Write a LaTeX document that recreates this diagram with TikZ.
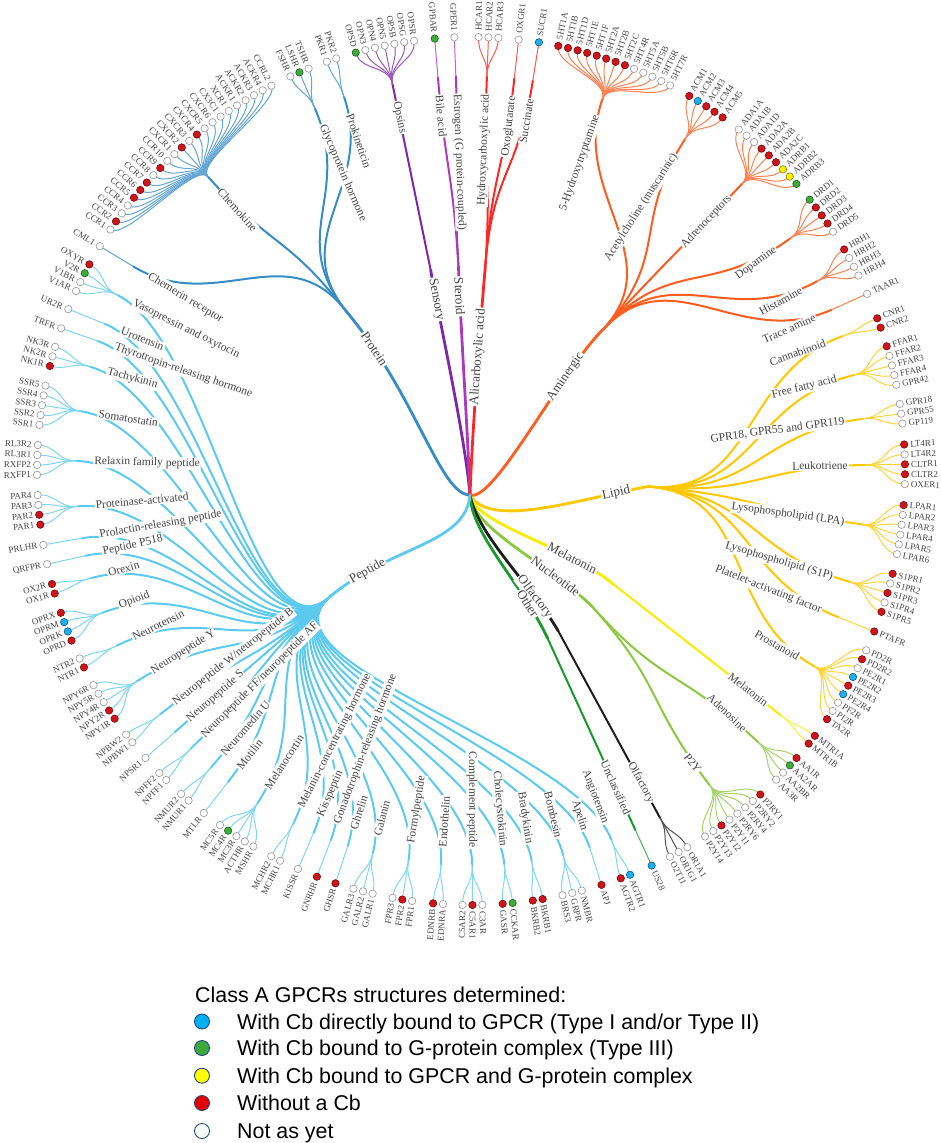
\documentclass[tikz,border=0pt]{standalone}
\usepackage{fontspec}
\setmainfont{Liberation Serif}
\newfontfamily\legendfont{Liberation Sans}
\usetikzlibrary{calc}

\definecolor{colProtein}{RGB}{55,140,198}
\definecolor{colPeptide}{RGB}{92,202,238}
\definecolor{colSensory}{RGB}{125,40,165}
\definecolor{colSteroid}{RGB}{172,58,188}
\definecolor{colAlicarb}{RGB}{255,38,38}
\definecolor{colAminergic}{RGB}{255,92,32}
\definecolor{colLipid}{RGB}{255,200,0}
\definecolor{colMelatonin}{RGB}{250,236,0}
\definecolor{colNucleotide}{RGB}{140,200,62}
\definecolor{colOlfactory}{RGB}{30,30,30}
\definecolor{colOther}{RGB}{25,152,45}

\definecolor{fille}{RGB}{255,255,255}
\definecolor{linee}{RGB}{150,150,150}
\definecolor{fillr}{RGB}{206,20,28}
\definecolor{liner}{RGB}{120,10,10}
\definecolor{fillg}{RGB}{62,172,58}
\definecolor{lineg}{RGB}{30,95,30}
\definecolor{fillb}{RGB}{28,176,236}
\definecolor{lineb}{RGB}{20,85,125}
\definecolor{filly}{RGB}{255,240,0}
\definecolor{liney}{RGB}{135,125,0}
\definecolor{labgray}{RGB}{68,68,68}
\definecolor{legline}{RGB}{31,73,125}
\definecolor{legblue}{RGB}{0,176,240}
\definecolor{leggreen}{RGB}{60,170,60}
\definecolor{legyellow}{RGB}{255,255,0}
\definecolor{legred}{RGB}{228,0,0}

\newcommand\LeafStep{1.31}

% class node: id, radius, angle (around centre C)
\newcommand\classnode[3]{%
  \expandafter\xdef\csname clsr@#1\endcsname{#2}%
  \expandafter\xdef\csname clst@#1\endcsname{#3}%
  \coordinate (c-#1) at ([shift={(#3:#2)}]C);%
}

% ---------- root -> class links, three passes
\newcommand\rootlinkLines[5]{%
  \draw[rootln=col#1] (root) .. controls +(#2) and +(#3) .. (c-#1);}
\newcommand\rootlinkBG[5]{%
  \path (root) .. controls +(#2) and +(#3) .. (c-#1)
      node[pos=#4, sloped, classlab, fill=white] (clb-#1) {\phantom{#5}};}
\newcommand\rootlinkFG[5]{%
  \path (root) .. controls +(#2) and +(#3) .. (c-#1)
    node[pos=#4, sloped, classlab] (cl-#1) {#5};}

% ---------- families, three passes
\newcommand\famsetup[2]{%
  \foreach \nm/\st [count=\k from 0] in {#2} {\xdef\famN{\k}}%
  \pgfmathsetmacro\famA{#1-\famN*\LeafStep/2}%
  \pgfmathsetmacro\fc{cos(\famA)}%
  \ifdim\fc pt<0pt
    \def\fanc{west}\pgfmathsetmacro\frot{\famA+180}%
  \else
    \def\fanc{east}\pgfmathsetmacro\frot{\famA}%
  \fi}

\newcommand\gfamLines[5]{%
  \famsetup{#3}{#5}%
  \edef\famCR{\csname clsr@#2\endcsname}%
  \edef\famCT{\csname clst@#2\endcsname}%
  \pgfmathsetmacro\famMid{(\famCR+395)/2}%
  \coordinate (f-#1) at ([shift={(\famA:395)}]C);%
  \draw[famlink=col#2] (c-#2) .. controls ([shift={(\famCT:\famMid)}]C) and ([shift={(\famA:\famMid)}]C) .. (f-#1);
  \foreach \nm/\st [count=\k from 0] in {#5} {%
    \pgfmathsetmacro\la{#3-\k*\LeafStep}%
    \coordinate (p-\nm) at ([shift={(\la:434)}]C);
    \draw[leaflink=col#2] (f-#1) .. controls ([shift={(\famA:414.5)}]C) and ([shift={(\la:414.5)}]C) .. (p-\nm);
  }}

\newcommand\gfamBG[5]{%
  \famsetup{#3}{#5}%
  \node[famlab, anchor=\fanc, rotate=\frot, fill=white] (flb-#1) at ([shift={(\famA:378)}]C) {\phantom{#4}};}

\newcommand\gfamFG[5]{%
  \famsetup{#3}{#5}%
  \node[famlab, anchor=\fanc, rotate=\frot] (fl-#1) at ([shift={(\famA:378)}]C) {#4};
  \foreach \nm/\st [count=\k from 0] in {#5} {%
    \pgfmathsetmacro\la{#3-\k*\LeafStep}%
    \node[leafdot=\st] (\nm) at (p-\nm) {};
    \pgfmathsetmacro\lc{cos(\la)}%
    \ifdim\lc pt<0pt
      \node[leaflab, anchor=east, rotate=\la+180] (t-\nm) at ([shift={(\la:440)}]C) {\nm};
    \else
      \node[leaflab, anchor=west, rotate=\la] (t-\nm) at ([shift={(\la:440)}]C) {\nm};
    \fi
  }}

% ---------- data
\newcommand\allroots{%
\rootlink{Protein}{180:30}{-50:110}{0.85}{Protein}
\rootlink{Sensory}{95:60}{-80:60}{0.85}{Sensory}
\rootlink{Steroid}{92:60}{-88:60}{0.85}{Steroid}
\rootlink{Alicarb}{88:60}{-95:60}{0.6}{Alicarboxylic acid}
\rootlink{Aminergic}{-20:25}{225:60}{0.74}{Aminergic}
\rootlink{Lipid}{-60:40}{190:70}{0.85}{Lipid}
\rootlink{Melatonin}{-80:30}{140:60}{0.75}{Melatonin}
\rootlink{Nucleotide}{-85:35}{135:60}{0.75}{Nucleotide}
\rootlink{Olfactory}{-80:40}{120:50}{0.75}{Olfactory}
\rootlink{Other}{-88:40}{115:60}{0.78}{Other}
\rootlink{Peptide}{-95:50}{40:80}{0.8}{Peptide}}

\newcommand\allfams{%
\gfam{chemerin}{Protein}{148.8}{Chemerin receptor}{CML1/e}
\gfam{chemokine}{Protein}{146.2}{Chemokine}{CCR1/e,CCR2/r,CCR3/e,CCR4/e,CCR5/r,CCR6/r,CCR7/r,CCR8/e,CCR9/r,CCR10/e,CXCR1/e,CXCR2/r,CXCR3/e,CXCR4/r,CXCR5/e,CXCR6/e,CX3C1/e,XCR1/e,ACKR1/e,ACKR2/e,ACKR3/e,ACKR4/e,CCRL2/e}
\gfam{glyco}{Protein}{114.6}{Glycoprotein hormone}{FSHR/e,LSHR/g,TSHR/e}
\gfam{prok}{Protein}{109.4}{Prokineticin}{PKR1/e,PKR2/e}
\gfam{opsins}{Sensory}{105.4}{Opsins}{OPSD/g,OPN3/e,OPN4/e,OPN5/e,OPSB/e,OPSG/e,OPSR/e}
\gfam{bile}{Steroid}{94.8}{Bile acid}{GPBAR/g}
\gfam{estrogen}{Steroid}{92.2}{Estrogen (G protein-coupled)}{GPER1/e}
\gfam{hydroxy}{Alicarb}{89.0}{Hydroxycarboxylic acid}{HCAR1/e,HCAR2/e,HCAR3/e}
\gfam{oxo}{Alicarb}{83.7}{Oxoglutarate}{OXGR1/e}
\gfam{succ}{Alicarb}{81.0}{Succinate}{SUCR1/b}
\gfam{ht}{Aminergic}{78.4}{5-Hydroxytryptamine}{5HT1A/r,5HT1B/r,5HT1D/r,5HT1E/r,5HT1F/r,5HT2A/r,5HT2B/r,5HT2C/r,5HT4R/e,5HT5A/e,5HT5B/e,5HT6R/e,5HT7R/e}
\gfam{ach}{Aminergic}{59.8}{Acetylcholine (muscarinic)}{ACM1/r,ACM2/b,ACM3/r,ACM4/r,ACM5/r}
\gfam{adreno}{Aminergic}{51.9}{Adrenoceptors}{ADA1A/e,ADA1B/e,ADA1D/e,ADA2A/r,ADA2B/r,ADA2C/r,ADRB1/y,ADRB2/y,ADRB3/g}
\gfam{dopamine}{Aminergic}{38.7}{Dopamine}{DRD1/g,DRD2/r,DRD3/r,DRD4/r,DRD5/e}
\gfam{histamine}{Aminergic}{30.7}{Histamine}{HRH1/r,HRH2/e,HRH3/e,HRH4/e}
\gfam{trace}{Aminergic}{24.1}{Trace amine}{TAAR1/e}
\gfam{cannab}{Lipid}{20.6}{Cannabinoid}{CNR1/r,CNR2/r}
\gfam{ffa}{Lipid}{16.7}{Free fatty acid}{FFAR1/r,FFAR2/e,FFAR3/e,FFAR4/e,GPR42/e}
\gfam{gpr}{Lipid}{8.9}{GPR18, GPR55 and GPR119}{GPR18/e,GPR55/e,GP119/e}
\gfam{leuko}{Lipid}{3.5}{Leukotriene}{LT4R1/r,LT4R2/e,CLTR1/r,CLTR2/r,OXER1/e}
\gfam{lpa}{Lipid}{-4.5}{Lysophospholipid (LPA)}{LPAR1/r,LPAR2/e,LPAR3/e,LPAR4/e,LPAR5/e,LPAR6/e}
\gfam{sip}{Lipid}{-13.7}{Lysophospholipid (S1P)}{S1PR1/r,S1PR2/e,S1PR3/r,S1PR4/e,S1PR5/r}
\gfam{paf}{Lipid}{-21.7}{Platelet-activating factor}{PTAFR/r}
\gfam{prosta}{Lipid}{-24.4}{Prostanoid}{PD2R/e,PD2R2/r,PE2R1/e,PE2R2/b,PE2R3/r,PE2R4/b,PF2R/e,PI2R/e,TA2R/r}
\gfam{melfam}{Melatonin}{-37.6}{Melatonin}{MTR1A/r,MTR1B/r}
\gfam{adenosine}{Nucleotide}{-41.4}{Adenosine}{AA1R/r,AA2AR/g,AA2BR/e,AA3R/e}
\gfam{ptwoy}{Nucleotide}{-48.2}{P2Y}{P2RY1/r,P2RY2/e,P2RY4/e,P2RY6/e,P2Y11/e,P2Y12/r,P2Y13/e,P2Y14/e}
\gfam{olffam}{Olfactory}{-60.1}{Olfactory}{OR1A1/e,OR1G1/e,O2T11/e}
\gfam{unclass}{Other}{-65.4}{Unclassified}{US28/b}
\gfam{angio}{Peptide}{-68.5}{Angiotensin}{AGTR1/b,AGTR2/r}
\gfam{apelin}{Peptide}{-72.5}{Apelin}{APJ/r}
\gfam{bombesin}{Peptide}{-75.2}{Bombesin}{NMBR/e,GRPR/e,BRS3/e}
\gfam{brady}{Peptide}{-80.5}{Bradykinin}{BKRB1/r,BKRB2/r}
\gfam{cck}{Peptide}{-84.5}{Cholecystokinin}{CCKAR/g,GASR/r}
\gfam{compl}{Peptide}{-88.5}{Complement peptide}{C3AR/e,C5AR1/r,C5AR2/e}
\gfam{endo}{Peptide}{-93.7}{Endothelin}{EDNRA/e,EDNRB/r}
\gfam{formyl}{Peptide}{-97.8}{Formylpeptide}{FPR1/e,FPR2/r,FPR3/e}
\gfam{galanin}{Peptide}{-103.1}{Galanin}{GALR1/e,GALR2/e,GALR3/e}
\gfam{ghrelin}{Peptide}{-108.2}{Ghrelin}{GHSR/r}
\gfam{gnrh}{Peptide}{-110.8}{Gonadotrophin-releasing hormone}{GNRHR/r}
\gfam{kiss}{Peptide}{-113.5}{Kisspeptin}{KISSR/e}
\gfam{mch}{Peptide}{-116.1}{Melanin-concentrating hormone}{MCHR1/e,MCHR2/e}
\gfam{melano}{Peptide}{-120.1}{Melanocortin}{MSHR/e,ACTHR/e,MC3R/e,MC4R/g,MC5R/e}
\gfam{motilin}{Peptide}{-128.0}{Motilin}{MTLR/e}
\gfam{nmu}{Peptide}{-130.6}{Neuromedin U}{NMUR1/e,NMUR2/e}
\gfam{npff}{Peptide}{-134.6}{Neuropeptide FF/neuropeptide AF}{NPFF1/e,NPFF2/e}
\gfam{nps}{Peptide}{-138.6}{Neuropeptide S}{NPSR1/e}
\gfam{npbw}{Peptide}{-141.3}{Neuropeptide W/neuropeptide B}{NPBW1/e,NPBW2/e}
\gfam{npy}{Peptide}{-145.2}{Neuropeptide Y}{NPY1R/r,NPY2R/r,NPY4R/e,NPY5R/e,NPY6R/e}
\gfam{neurot}{Peptide}{-153.1}{Neurotensin}{NTR1/r,NTR2/e}
\gfam{opioid}{Peptide}{-157.0}{Opioid}{OPRD/r,OPRK/b,OPRM/b,OPRX/r}
\gfam{orexin}{Peptide}{-163.6}{Orexin}{OX1R/r,OX2R/r}
\gfam{pfive}{Peptide}{-167.6}{Peptide P518}{QRFPR/e}
\gfam{prlh}{Peptide}{-170.2}{Prolactin-releasing peptide}{PRLHR/e}
\gfam{par}{Peptide}{-172.9}{Proteinase-activated}{PAR1/r,PAR2/r,PAR3/e,PAR4/e}
\gfam{relaxin}{Peptide}{-179.5}{Relaxin family peptide}{RXFP1/e,RXFP2/e,RL3R1/e,RL3R2/e}
\gfam{somato}{Peptide}{-186.1}{Somatostatin}{SSR1/e,SSR2/e,SSR3/e,SSR4/e,SSR5/e}
\gfam{tachy}{Peptide}{-194.0}{Tachykinin}{NK1R/r,NK2R/e,NK3R/e}
\gfam{trh}{Peptide}{-199.2}{Thyrotropin-releasing hormone}{TRFR/e}
\gfam{uro}{Peptide}{-201.9}{Urotensin}{UR2R/e}
\gfam{vaso}{Peptide}{-204.5}{Vasopressin and oxytocin}{V1AR/e,V1BR/e,V2R/g,OXYR/r}}

\begin{document}
\begin{tikzpicture}[x=1pt,y=1pt, line cap=round,
  leafdot/.style={circle, inner sep=0pt, minimum size=7.4pt, fill=fill#1, draw=line#1, line width=0.6pt},
  leaflink/.style={draw=#1!78!white, line width=1pt},
  famlink/.style={draw=#1, line width=2pt},
  rootln/.style={draw=#1, line width=2.8pt},
  leaflab/.style={inner sep=0pt, text=labgray, font=\fontsize{9}{10}\selectfont},
  famlab/.style={inner sep=1pt, text=labgray, font=\fontsize{11.5}{13}\selectfont},
  classlab/.style={inner sep=1.2pt, text=labgray, font=\fontsize{13}{15}\selectfont},
  legdot/.style={circle, inner sep=0pt, minimum size=15pt, draw=legline, line width=0.9pt, fill=#1},
  legtext/.style={anchor=base west, inner sep=0pt, text=black, font=\legendfont\fontsize{21.4}{25}\selectfont}]
\useasboundingbox (0,0) rectangle (941,-1143);
\coordinate (C) at (471,-471);
\coordinate (root) at (470,-495);

\classnode{Protein}{204}{128}
\classnode{Sensory}{205}{101.35}
\classnode{Steroid}{205}{93.5}
\classnode{Alicarb}{203}{86}
\classnode{Aminergic}{193}{47}
\classnode{Lipid}{178}{-5}
\classnode{Melatonin}{182}{-38.5}
\classnode{Nucleotide}{182}{-48.2}
\classnode{Olfactory}{182}{-61.4}
\classnode{Other}{184}{-65.4}
\classnode{Peptide}{189}{-138.3}

% pass 1: connectors
\let\rootlink\rootlinkLines \allroots
\let\gfam\gfamLines \allfams
% pass 2: white label backgrounds
\let\rootlink\rootlinkBG \allroots
\let\gfam\gfamBG \allfams
% pass 3: texts and leaf dots
\let\rootlink\rootlinkFG \allroots
\let\gfam\gfamFG \allfams

% ---- legend
\node[legtext] (lgtitle) at (195,-1002.5) {Class A GPCRs structures determined:};
\node[legdot=legblue] (lgd1) at (202,-1021.5) {};
\node[legtext] (lgt1) at (237,-1029.3) {With Cb directly bound to GPCR (Type I and/or Type II)};
\node[legdot=leggreen] (lgd2) at (202,-1048) {};
\node[legtext] (lgt2) at (237,-1055.8) {With Cb bound to G-protein complex (Type III)};
\node[legdot=legyellow] (lgd3) at (202,-1075.7) {};
\node[legtext] (lgt3) at (237,-1083.5) {With Cb bound to GPCR and G-protein complex};
\node[legdot=legred] (lgd4) at (202,-1103) {};
\node[legtext] (lgt4) at (237,-1110.8) {Without a Cb};
\node[legdot=white] (lgd5) at (202,-1131) {};
\node[legtext] (lgt5) at (237,-1138.8) {Not as yet};
\end{tikzpicture}
\end{document}
